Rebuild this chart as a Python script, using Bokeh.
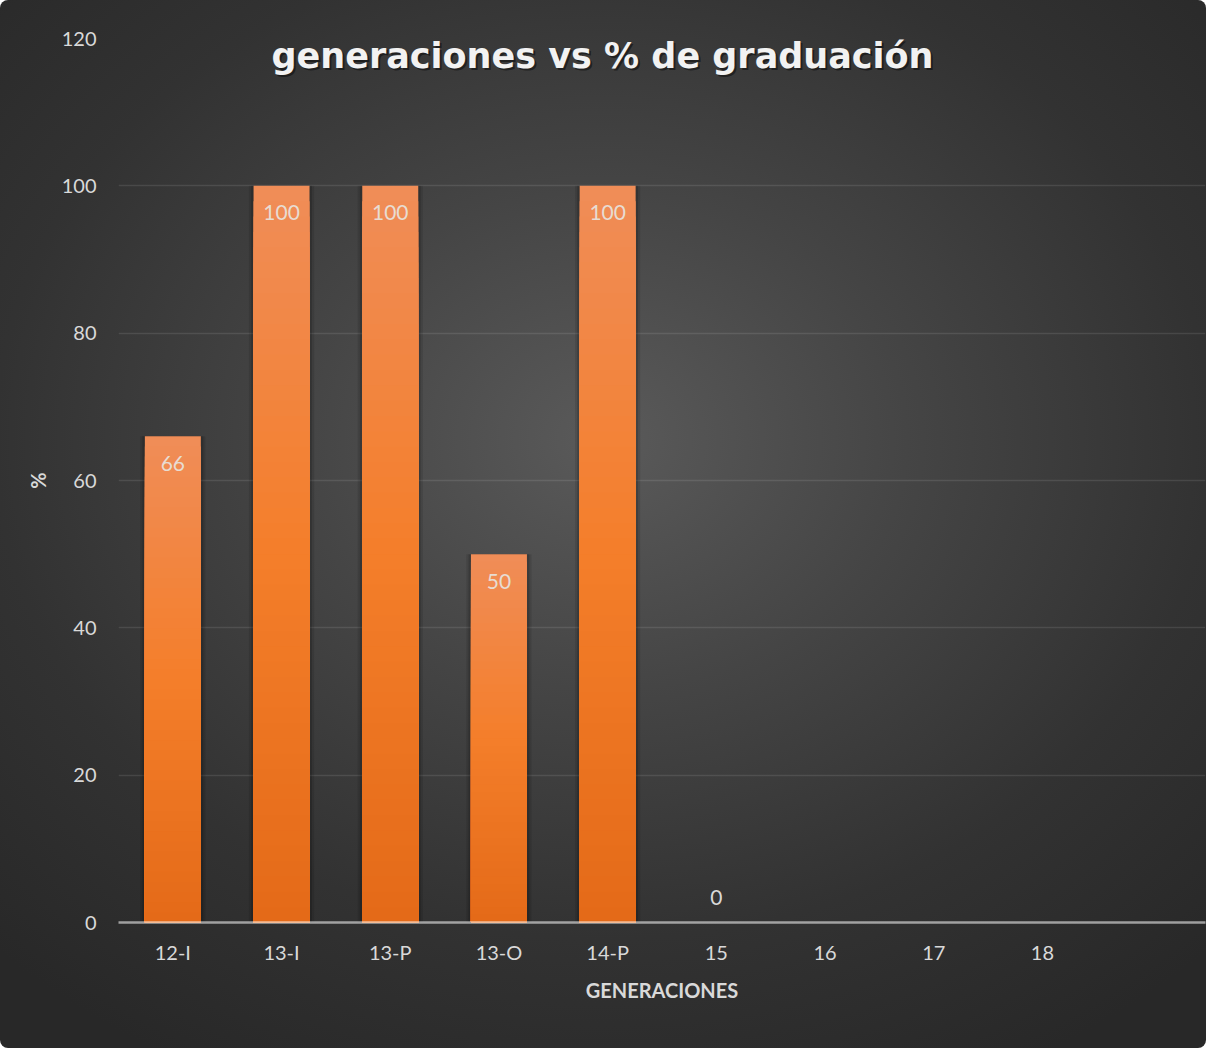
import numpy as np
from bokeh.plotting import figure
from bokeh.models import ColumnDataSource, FactorRange, Range1d, Label, FixedTicker
from bokeh.embed import file_html
from bokeh.resources import INLINE
from bokeh.core.properties import value

# ---- data ----
categories = ["12-I", "13-I", "13-P", "13-O", "14-P", "15", "16", "17", "18", ""]
graduation = [66, 100, 100, 50, 100, 0, None, None, None, None]
y_ticks = [0, 20, 40, 60, 80, 100, 120]
title_text = "generaciones vs % de graduación"
x_title = "GENERACIONES"
y_title = "%"

TXT = "#d9d9d9"
FONT = value("Lato")

p = figure(
    x_range=FactorRange(factors=categories, range_padding=0),
    y_range=Range1d(0, 120),
    width=1206, height=1048,
    output_backend="svg", toolbar_location=None,
    min_border_left=118, min_border_right=1, min_border_top=38, min_border_bottom=126,
    styles={
        "background": "radial-gradient(ellipse 72% 68% at 50% 42%, #5a5a5a 0%, #454545 35%, #323232 70%, #282828 100%)",
        "border-radius": "8px",
    },
)
p.background_fill_alpha = 0
p.border_fill_alpha = 0
p.outline_line_color = None

# ---- bar shadows ----
present = [(c, v) for c, v in zip(categories, graduation) if v]
sh = ColumnDataSource(dict(x=[c for c, v in present], top=[v for c, v in present]))
p.vbar(x="x", top="top", bottom=0, width=0.60, source=sh, fill_color="black", fill_alpha=0.10, line_color=None)
p.vbar(x="x", top="top", bottom=0, width=0.56, source=sh, fill_color="black", fill_alpha=0.15, line_color=None)

# ---- gradient bars (stacked overlays, tallest first) ----
stops = [(0.0, (228, 106, 24)), (0.5, (244, 126, 42)), (1.0, (240, 141, 88))]


def grad(t):
    for (t0, c0), (t1, c1) in zip(stops[:-1], stops[1:]):
        if t0 <= t <= t1:
            f = (t - t0) / (t1 - t0)
            r, g, b = (int(round(a + (bb - a) * f)) for a, bb in zip(c0, c1))
            return "#%02x%02x%02x" % (r, g, b)
    return "#%02x%02x%02x" % stops[-1][1]


N = 48
bx, btop, bcol = [], [], []
for i in range(N, 0, -1):
    t = i / N
    for c, v in present:
        bx.append(c)
        btop.append(v * t)
        bcol.append(grad(t - 0.5 / N))
bars = ColumnDataSource(dict(x=bx, top=btop, color=bcol))
p.vbar(x="x", top="top", bottom=0, width=0.515, source=bars, fill_color="color", line_color=None)

# ---- data labels ----
pos = [(c, v) for c, v in zip(categories, graduation) if v is not None and v > 0]
zer = [(c, v) for c, v in zip(categories, graduation) if v is not None and v == 0]
p.text(x=[c for c, v in pos], y=[v for c, v in pos], text=[str(v) for c, v in pos],
       text_align="center", text_baseline="middle", y_offset=27,
       text_font=FONT, text_font_size="21px", text_color="#e8dcd2")
p.text(x=[c for c, v in zer], y=[v for c, v in zer], text=[str(v) for c, v in zer],
       text_align="center", text_baseline="middle", y_offset=-25,
       text_font=FONT, text_font_size="21px", text_color=TXT)

# ---- axes ----
p.yaxis.ticker = FixedTicker(ticks=y_ticks)
p.yaxis.axis_line_color = None
p.yaxis.major_tick_line_color = None
p.yaxis.minor_tick_line_color = None
p.yaxis.major_tick_out = 0
p.yaxis.minor_tick_out = 0
p.yaxis.major_label_standoff = 22
p.yaxis.axis_label = y_title
p.yaxis.axis_label_standoff = 9

p.xaxis.axis_line_color = "white"
p.xaxis.axis_line_alpha = 0.55
p.xaxis.axis_line_width = 2.5
p.xaxis.major_tick_line_color = None
p.xaxis.minor_tick_line_color = None
p.xaxis.major_tick_out = 0
p.xaxis.minor_tick_out = 0
p.xaxis.major_label_standoff = 17
p.xaxis.axis_label = x_title
p.xaxis.axis_label_standoff = 11

for ax in (p.xaxis, p.yaxis):
    ax.major_label_text_font = "Lato"
    ax.major_label_text_font_size = "20px"
    ax.major_label_text_color = TXT
    ax.axis_label_text_font = "Lato"
    ax.axis_label_text_font_size = "20px"
    ax.axis_label_text_font_style = "bold"
    ax.axis_label_text_color = TXT

p.xgrid.grid_line_color = None
p.ygrid.grid_line_color = "white"
p.ygrid.grid_line_alpha = 0.10
p.ygrid.grid_line_width = 1.5

# ---- title (inside the frame) ----
p.add_layout(Label(x=486, y=865, x_units="screen", y_units="screen", text=title_text,
                   text_align="center", text_baseline="middle",
                   text_font="DejaVu Sans", text_font_size="35px", text_font_style="bold",
                   text_color="black", text_alpha=0.45))
p.add_layout(Label(x=484, y=867, x_units="screen", y_units="screen", text=title_text,
                   text_align="center", text_baseline="middle",
                   text_font="DejaVu Sans", text_font_size="35px", text_font_style="bold",
                   text_color="#f2f2f2"))

open("out.html", "w").write(file_html(p, INLINE))
